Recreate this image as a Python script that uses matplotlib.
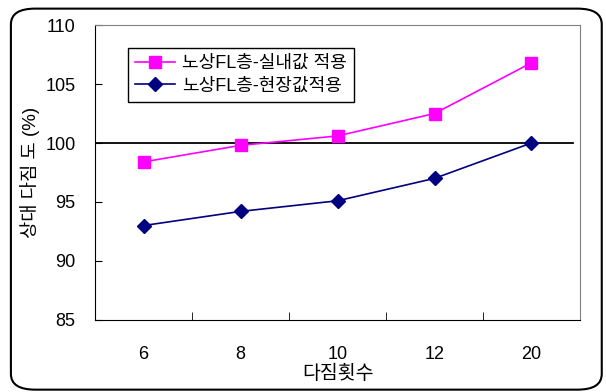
import numpy as np
import matplotlib.pyplot as plt
from matplotlib.patches import FancyBboxPatch

plt.rcParams['font.family'] = ['Liberation Sans', 'Noto Sans CJK KR']

categories = ['6', '8', '10', '12', '20']
indoor = [98.4, 99.8, 100.6, 102.5, 106.8]
field = [93.0, 94.2, 95.1, 97.0, 100.0]

fig = plt.figure(figsize=(6.06, 3.92), dpi=100)
fig.patches.append(FancyBboxPatch((0.018, 0.006), 0.975, 0.972, boxstyle='round,pad=0,rounding_size=0.04',
                                  transform=fig.transFigure, fill=False, edgecolor='black', linewidth=1.5))
ax = fig.add_axes([0.157, 0.184, 0.8, 0.752])

x = np.arange(len(categories))
ax.plot(x, indoor, color='#ff00ff', marker='s', markersize=9, linewidth=1.2, label='노상FL층-실내값 적용')
ax.plot(x, field, color='#000080', marker='D', markersize=7.5, linewidth=1.2, label='노상FL층-현장값적용')
ax.axhline(100, xmin=0, xmax=0.985, color='black', linewidth=1.3, zorder=1)

ax.set_xlim(-0.5, len(categories) - 0.5)
ax.set_ylim(85, 110)
ax.set_yticks(np.arange(85, 111, 5))
ax.set_xticks(x)
ax.set_xticklabels(categories)
ax.set_xticks(np.arange(0.5, len(categories), 1), minor=True)
ax.tick_params(axis='x', which='major', length=0, pad=19, labelsize=13)
ax.tick_params(axis='x', which='minor', direction='in', length=6)
ax.tick_params(axis='y', direction='in', length=5, pad=14, labelsize=13)

for s in ['top', 'right']:
    ax.spines[s].set_color('#808080')
for s in ['left', 'bottom']:
    ax.spines[s].set_color('black')

ax.set_xlabel('다짐횟수', fontsize=14, labelpad=1)
ax.set_ylabel('상대 다짐 도 (%)', fontsize=13.5, labelpad=4)

leg = ax.legend(loc='upper left', bbox_to_anchor=(0.068, 0.922), borderaxespad=0, fancybox=False,
                edgecolor='black', fontsize=13, handlelength=2.2, handletextpad=0.4,
                labelspacing=0.3, borderpad=0.4, framealpha=1)
leg.get_frame().set_linewidth(1.0)

fig.savefig('out.png', dpi=100)
